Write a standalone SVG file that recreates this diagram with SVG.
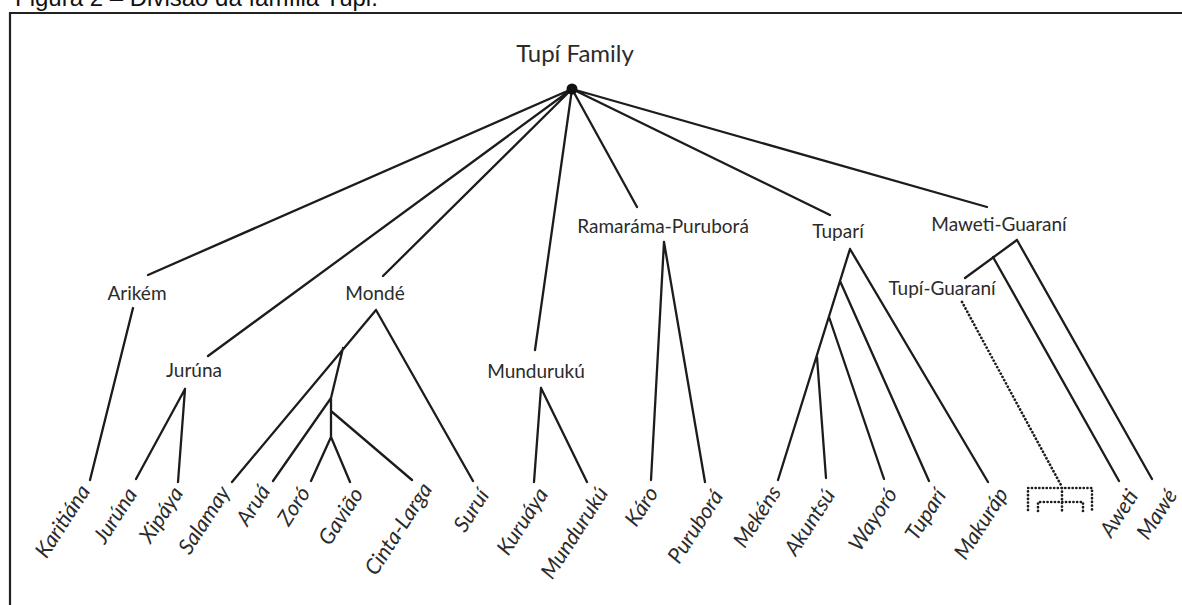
<svg xmlns="http://www.w3.org/2000/svg" width="1182" height="605" viewBox="0 0 1182 605">
<style>
.lbl{font-family:Lato,"Open Sans","DejaVu Sans",sans-serif;font-size:19px;fill:#2b2b2b;text-anchor:middle}
.leaf{font-family:Lato,"Open Sans","DejaVu Sans",sans-serif;font-size:21.5px;font-style:italic;fill:#2b2b2b;text-anchor:end}
.edge{fill:none;stroke:#1c1c1c;stroke-width:2.3;stroke-linecap:round;stroke-linejoin:round}
.dot{fill:none;stroke:#1c1c1c;stroke-width:2.7;stroke-linecap:round;stroke-dasharray:0.1 3.6}
</style>
<rect width="1182" height="605" fill="#ffffff"/>
<text x="15" y="6" font-family="'Liberation Sans',Arial,sans-serif" font-size="24" fill="#111">Figura 2 – Divisão da família Tupi.</text>
<path d="M10,605 L10,13 L1182,13" fill="none" stroke="#222" stroke-width="2.2"/>
<g id="connectors">
<path class="edge" d="M572,89 L148,275 M572,89 L208,356 M572,89 L383,276 M572,89 L535,350 M572,89 L637,207 M572,89 L830,215 M572,89 L987,207"/>
<path class="edge" d="M133,308 L90,480"/>
<path class="edge" d="M185,389 L136,479 M185,389 L178,482"/>
<path class="edge" d="M376,310 L473,481 M376,310 L232,482 M343,348 L331,398 L273,481 M331,398 L331,437 M331,411 L412,480 M331,437 L311,481 M331,437 L350,482"/>
<path class="edge" d="M541,388 L534,482 M541,388 L587,482"/>
<path class="edge" d="M664,242 L651,480 M664,242 L705,482"/>
<path class="edge" d="M850,249 L988,482 M850,249 L778,480 M840,281 L929,481 M829,317 L884,479 M817,357 L826,478"/>
<path class="edge" d="M1017,240 L1152,479 M1017,240 L965,278 M993,257 L1119,481"/>
<path class="dot" d="M962,302 L1062,487"/>
<path class="dot" d="M1028,510 L1028,488 L1092,488 L1092,510 M1062,488 L1062,511 M1038,511 L1038,502 L1083,502 L1083,511"/>
</g>
<g id="root"><circle cx="572" cy="89" r="5.5" fill="#111"/><text class="lbl" x="575" y="62" style="font-size:24px">Tupí Family</text></g>
<g id="arikem"><text class="lbl" x="137" y="300">Arikém</text></g>
<g id="jurunaG"><text class="lbl" x="194" y="377">Jurúna</text></g>
<g id="monde"><text class="lbl" x="375" y="300">Mondé</text></g>
<g id="mundurukuG"><text class="lbl" x="536" y="378">Mundurukú</text></g>
<g id="ramarama"><text class="lbl" x="663" y="233">Ramaráma-Puruborá</text></g>
<g id="tupariG"><text class="lbl" x="838" y="238">Tuparí</text></g>
<g id="maweti"><text class="lbl" x="999" y="231">Maweti-Guaraní</text></g>
<g id="tupiguarani"><text class="lbl" x="942" y="295">Tupí-Guaraní</text></g>
<g id="leaf-karitiana"><text class="leaf" transform="translate(91,491) rotate(-57)">Karitiána</text></g>
<g id="leaf-juruna"><text class="leaf" transform="translate(138,494) rotate(-57)">Jurúna</text></g>
<g id="leaf-xipaya"><text class="leaf" transform="translate(184,493) rotate(-57)">Xipáya</text></g>
<g id="leaf-salamay"><text class="leaf" transform="translate(231,492) rotate(-57)">Salamay</text></g>
<g id="leaf-arua"><text class="leaf" transform="translate(271,491) rotate(-57)">Aruá</text></g>
<g id="leaf-zoro"><text class="leaf" transform="translate(311,493) rotate(-57)">Zoró</text></g>
<g id="leaf-gaviao"><text class="leaf" transform="translate(364,494) rotate(-57)">Gavião</text></g>
<g id="leaf-cinta"><text class="leaf" transform="translate(433,489) rotate(-57)">Cinta-Larga</text></g>
<g id="leaf-surui"><text class="leaf" transform="translate(490,495) rotate(-57)">Suruí</text></g>
<g id="leaf-kuruaya"><text class="leaf" transform="translate(549,494) rotate(-57)">Kuruáya</text></g>
<g id="leaf-munduruku"><text class="leaf" transform="translate(609,493) rotate(-57)">Mundurukú</text></g>
<g id="leaf-karo"><text class="leaf" transform="translate(659,493) rotate(-57)">Káro</text></g>
<g id="leaf-purubora"><text class="leaf" transform="translate(724,496) rotate(-57)">Puruborá</text></g>
<g id="leaf-mekens"><text class="leaf" transform="translate(782,492) rotate(-57)">Mekéns</text></g>
<g id="leaf-akuntsu"><text class="leaf" transform="translate(836,495) rotate(-57)">Akuntsú</text></g>
<g id="leaf-wayoro"><text class="leaf" transform="translate(898,494) rotate(-57)">Wayoró</text></g>
<g id="leaf-tupari"><text class="leaf" transform="translate(947,495) rotate(-57)">Tuparí</text></g>
<g id="leaf-makurap"><text class="leaf" transform="translate(1009,494) rotate(-57)">Makuráp</text></g>
<g id="leaf-aweti"><text class="leaf" transform="translate(1139,496) rotate(-57)">Aweti</text></g>
<g id="leaf-mawe"><text class="leaf" transform="translate(1178,495) rotate(-57)">Mawé</text></g>
</svg>
